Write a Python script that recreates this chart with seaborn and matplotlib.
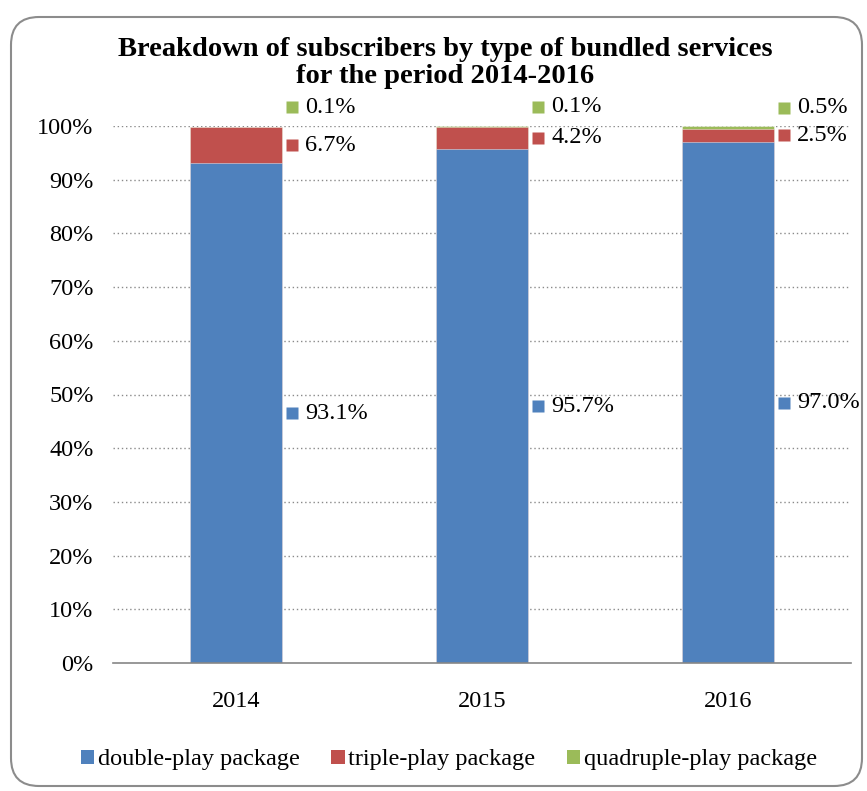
import numpy as np
import pandas as pd
import matplotlib
matplotlib.use("Agg")
import matplotlib.pyplot as plt
import matplotlib.transforms as mtransforms
from matplotlib.patches import FancyBboxPatch, Patch
import seaborn as sns

# --- data -------------------------------------------------------------
years = ["2014", "2015", "2016"]
double_play = [93.1, 95.7, 97.0]
triple_play = [6.7, 4.2, 2.5]
quadruple_play = [0.1, 0.1, 0.5]
series_names = ["double-play package", "triple-play package", "quadruple-play package"]
y_ticks = [0, 10, 20, 30, 40, 50, 60, 70, 80, 90, 100]

colors = ["#4F81BD", "#C0504D", "#9BBB59"]

sns.set_theme(style="white")
plt.rcParams["font.family"] = ["Liberation Serif", "DejaVu Serif"]
plt.rcParams["text.color"] = "black"
plt.rcParams["xtick.color"] = "black"
plt.rcParams["ytick.color"] = "black"

fig = plt.figure(figsize=(8.67, 7.91), dpi=100)
ax = fig.add_axes([113 / 867, 1 - 663 / 791, 738 / 867, 537 / 791])

df = pd.DataFrame({
    "year": years,
    "double": double_play,
    "triple": triple_play,
    "quad": quadruple_play,
})
df["cum1"] = df["double"]
df["cum2"] = df["double"] + df["triple"]
df["cum3"] = df["cum2"] + df["quad"]

bar_w = 0.374
# stacked look: draw cumulative totals from the top segment down
for col, c in zip(["cum3", "cum2", "cum1"], colors[::-1]):
    sns.barplot(data=df, x="year", y=col, color=c, width=bar_w,
                errorbar=None, ax=ax, linewidth=0.6, edgecolor=(1, 1, 1, 0.5),
                saturation=1, zorder=3)

FS = 17.5
ax.set_xlim(-0.5, 2.5)
ax.set_ylim(0, 100)
ax.set_yticks(y_ticks)
ax.set_yticklabels([f"{t}%" for t in y_ticks], fontsize=FS)
ax.set_xticks(range(len(years)))
ax.set_xticklabels(years, fontsize=FS)
ax.tick_params(axis="y", length=0, pad=14, labelcolor="black")
ax.tick_params(axis="x", length=0, pad=20, labelcolor="black")
ax.set_xlabel("")
ax.set_ylabel("")

for s in ["left", "right", "top"]:
    ax.spines[s].set_visible(False)
ax.spines["bottom"].set_color("#868686")
ax.spines["bottom"].set_linewidth(1.2)
ax.spines["bottom"].set_zorder(4)

for t in y_ticks[1:]:
    ax.axhline(t, color="#8a8a8a", lw=1.0, ls=(0, (1, 2)), zorder=1)

# --- data labels with colour keys ---------------------------------------
def label(xc, yval, text, color, dy_px=0):
    edge = xc + bar_w / 2
    mk = mtransforms.offset_copy(ax.transData, fig=fig, x=10, y=dy_px, units="dots")
    ax.plot([edge], [yval], marker="s", ms=9, color=color, mec="none",
            transform=mk, clip_on=False, zorder=5)
    tx = mtransforms.offset_copy(ax.transData, fig=fig, x=23, y=dy_px, units="dots")
    ax.text(edge, yval, text, transform=tx, ha="left", va="center",
            fontsize=FS, color="black", clip_on=False)

for i in range(len(years)):
    d, t, q = double_play[i], triple_play[i], quadruple_play[i]
    label(i, d / 2, f"{d:.1f}%", colors[0])
    label(i, d + t / 2, f"{t:.1f}%", colors[1])
    label(i, d + t + q / 2, f"{q:.1f}%", colors[2], dy_px=19.5)

# --- title --------------------------------------------------------------
fig.text(445 / 867, 1 - 63 / 791,
         "Breakdown of subscribers by type of bundled services\nfor the period 2014-2016",
         ha="center", va="center", fontsize=20.5, fontweight="bold",
         linespacing=1.15, color="black")

# --- legend -------------------------------------------------------------
handles = [Patch(facecolor=c, edgecolor="none") for c in colors]
fig.legend(handles, series_names, loc="center", bbox_to_anchor=(449 / 867, 1 - 760 / 791),
           ncol=3, frameon=False, fontsize=FS, handlelength=0.55, handleheight=0.55,
           handletextpad=0.15, columnspacing=1.3, labelcolor="black")

# --- rounded chart border ----------------------------------------------
border = FancyBboxPatch((0.11, 0.05), 8.51, 7.69,
                        boxstyle="round,pad=0,rounding_size=0.28",
                        transform=fig.dpi_scale_trans, facecolor="none",
                        edgecolor="#8c8c8c", linewidth=1.5)
fig.add_artist(border)

fig.savefig("out.png", dpi=100)
